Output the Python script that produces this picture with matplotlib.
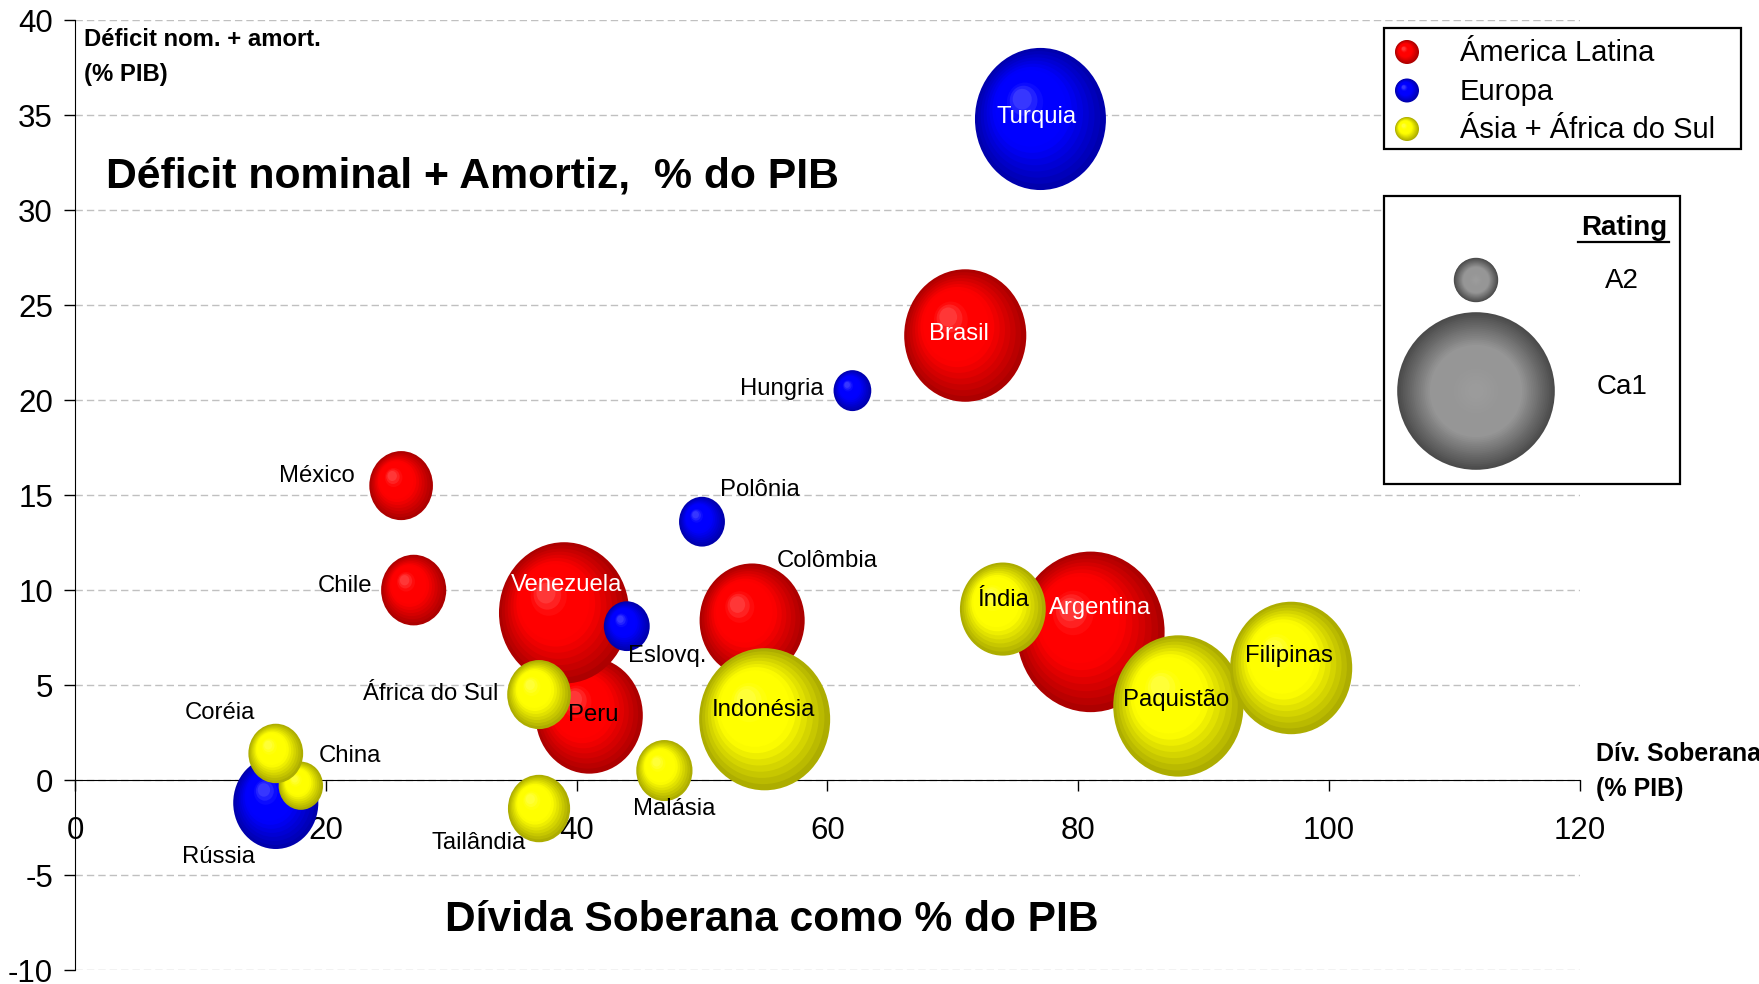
"""Bubble chart: sovereign debt vs nominal deficit + amortization, sized by rating."""

import numpy as np
import matplotlib
matplotlib.use("Agg")
import matplotlib.pyplot as plt
from matplotlib.colors import to_rgb
from matplotlib.patches import Ellipse, Rectangle

plt.rcParams["font.family"] = ["Liberation Sans", "DejaVu Sans"]
plt.rcParams["axes.unicode_minus"] = False

# data, in drawing order (later rows sit on top)
countries = ["México", "Chile", "Colômbia", "Brasil", "Argentina", "Peru", "Venezuela",
             "Turquia", "Hungria", "Polônia", "Eslovq.", "Rússia",
             "Índia", "Paquistão", "Filipinas", "Indonésia", "África do Sul", "Malásia",
             "Tailândia", "China", "Coréia"]
region = ["lat"] * 7 + ["eur"] * 5 + ["asia"] * 9
divida = [26, 27, 54, 71, 81, 41, 39,
          77, 62, 50, 44, 16,
          74, 88, 97, 55, 37, 47, 37, 18, 16]
deficit = [15.5, 10.0, 8.4, 23.4, 7.8, 3.4, 8.8,
           34.8, 20.5, 13.6, 8.1, -1.2,
           9.0, 3.9, 5.9, 3.2, 4.5, 0.5, -1.5, -0.3, 1.4]
rating_notch = [8.6, 8.8, 14.2, 16.5, 20.0, 14.5, 17.6,
                17.7, 5.1, 6.2, 6.2, 11.5,
                11.6, 17.6, 16.5, 17.7, 8.6, 7.6, 8.4, 6.0, 7.4]

region_names = {"lat": "Ámerica Latina", "eur": "Europa", "asia": "Ásia + África do Sul"}
region_colors = {"lat": "#FF0000", "eur": "#0000FF", "asia": "#FFFF00"}
rating_labels = ["A2", "Ca1"]
rating_legend_notch = [6.0, 21.3]

# label placement, image pixels relative to bubble centre (dx, dy down), colour
label_style = {
    "Turquia": (-4, -2, "white"), "Brasil": (-6, -2, "white"),
    "Venezuela": (2, -28, "white"), "Argentina": (9, -24, "white"),
    "Índia": (0, -9, "black"), "Paquistão": (-2, -6, "black"),
    "Filipinas": (-2, -12, "black"), "Indonésia": (-1, -9, "black"),
    "Peru": (4, 0, "black"), "Hungria": (-71, -2, "black"),
    "México": (-84, -10, "black"), "Chile": (-69, -4, "black"),
    "Polônia": (58, -32, "black"), "Colômbia": (75, -59, "black"),
    "Eslovq.": (40, 30, "black"), "África do Sul": (-108, -1, "black"),
    "Malásia": (10, 38, "black"), "Tailândia": (-60, 34, "black"),
    "Coréia": (-56, -40, "black"), "China": (49, -30, "black"),
    "Rússia": (-57, 54, "black"),
}

W, H = 1759, 984
PX_PER_NOTCH = 7.4


def sphere(ax, cx, cy, w, h, color, z, dark=0.68, light=0.3, hl=(-0.3, 0.3), n=14):
    base = np.array(to_rgb(color))
    edge = base * dark
    top = base + (1 - base) * light
    for i in range(n):
        t = i / n
        s = 1 - 0.92 * t
        if t < 0.45:
            c = edge + (base - edge) * (t / 0.45)
        elif t < 0.75:
            c = base
        else:
            c = base + (top - base) * ((t - 0.75) / 0.25)
        ax.add_patch(Ellipse((cx + hl[0] * w / 2 * t, cy + hl[1] * h / 2 * t), w * s, h * s,
                             facecolor=np.clip(c, 0, 1), edgecolor="none", zorder=z))


fig = plt.figure(figsize=(W / 100, H / 100), dpi=100)
ax = fig.add_axes([75.2 / W, 14 / H, 1504.3 / W, 949.8 / H])
ax.set_xlim(0, 120)
ax.set_ylim(-10, 40)
ax.set_xticks(range(0, 121, 20))
ax.set_yticks(range(-10, 41, 5))
for side in ("top", "right"):
    ax.spines[side].set_visible(False)
ax.spines["bottom"].set_position(("data", 0))
ax.spines["bottom"].set_zorder(1.5)
ax.tick_params(axis="x", direction="out", length=8, width=1, labelsize=22.5, pad=18)
ax.tick_params(axis="y", direction="out", length=8, width=1, labelsize=22.5, pad=8)
ax.yaxis.grid(True, linestyle=(0, (5.3, 2.9)), color="#C0C0C0", linewidth=1)
ax.set_axisbelow(True)

px_x = ax.get_position().width * W / 120
px_y = ax.get_position().height * H / 50
for k, name in enumerate(countries):
    d = rating_notch[k] * PX_PER_NOTCH
    sphere(ax, divida[k], deficit[k], d / px_x, 1.085 * d / px_y,
           region_colors[region[k]], z=3 + k * 0.01)
    dx, dy, tc = label_style[name]
    ax.annotate(name, (divida[k], deficit[k]), xytext=(dx, -dy), textcoords="offset pixels",
                ha="center", va="center", fontsize=17.2, color=tc, zorder=10)

# overlay in figure pixels for titles and legends
ov = fig.add_axes([0, 0, 1, 1], zorder=5)
ov.set_xlim(0, W)
ov.set_ylim(H, 0)
ov.axis("off")
ov.patch.set_alpha(0)

ov.text(106, 176, "Déficit nominal + Amortiz,  % do PIB", fontsize=30.8, fontweight="bold",
        ha="left", va="center")
ov.text(772, 920, "Dívida Soberana como % do PIB", fontsize=30.6, fontweight="bold",
        ha="center", va="center")
ov.text(84, 40, "Déficit nom. + amort.", fontsize=17.2, fontweight="bold", va="center")
ov.text(84, 75, "(% PIB)", fontsize=17.2, fontweight="bold", va="center")
ov.text(1596, 754, "Dív. Soberana", fontsize=18, fontweight="bold", va="center")
ov.text(1596, 789, "(% PIB)", fontsize=18, fontweight="bold", va="center")

# region legend
ov.add_patch(Rectangle((1384, 28), 357, 121, facecolor="white", edgecolor="black", lw=1.6))
for j, key in enumerate(["lat", "eur", "asia"]):
    yy = 52 + 38.5 * j
    sphere(ov, 1407, yy, 24, -24, region_colors[key], z=6)
    ov.text(1460, yy + 1, region_names[key], fontsize=21, va="center", zorder=7)

# rating legend
ov.add_patch(Rectangle((1384, 196), 296, 288, facecolor="white", edgecolor="black", lw=1.6))
ov.text(1624, 228, "Rating", fontsize=20, fontweight="bold", ha="center", va="center", zorder=7)
ov.plot([1578, 1669], [242, 242], color="black", lw=1.6, zorder=7)
for j, lab in enumerate(rating_labels):
    d = rating_legend_notch[j] * PX_PER_NOTCH
    cy = [280, 391][j]
    sphere(ov, 1476, cy, d, -d, "#969696", z=6, dark=0.5, light=0.05, hl=(0.0, 0.0), n=40)
    ov.text(1622, [281, 387][j], lab, fontsize=20, ha="center", va="center", zorder=7)

fig.savefig("out.png", dpi=100)
